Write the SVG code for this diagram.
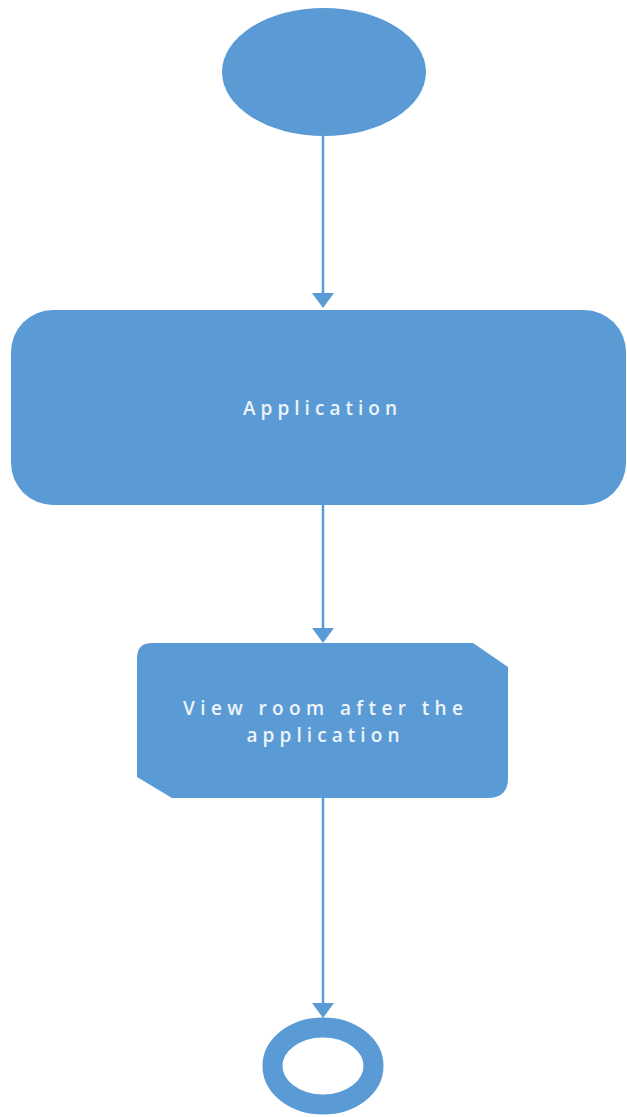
<svg xmlns="http://www.w3.org/2000/svg" width="627" height="1117" viewBox="0 0 627 1117">
  <style>
    .shape { fill: #5b9bd5; }
    .label { fill: #eef4fb; font-family: "Open Sans", "Liberation Sans", sans-serif; font-size: 19px; font-weight: 600; text-anchor: middle; }
    .flow { stroke: #5b9bd5; stroke-width: 2.5; fill: none; }
  </style>
  <defs>
    <path id="head" d="M-11,0 L11,0 L0,15 Z"/>
  </defs>
  <rect width="627" height="1117" fill="#ffffff"/>

  <!-- connectors -->
  <g id="connectors">
    <line class="flow" x1="323" y1="136" x2="323" y2="294"/>
    <use href="#head" class="shape" x="323" y="293"/>
    <line class="flow" x1="323" y1="505" x2="323" y2="629"/>
    <use href="#head" class="shape" x="323" y="628"/>
    <line class="flow" x1="323" y1="798" x2="323" y2="1004"/>
    <use href="#head" class="shape" x="323" y="1003"/>
  </g>

  <!-- initial state -->
  <g id="start">
    <ellipse class="shape" cx="324" cy="72" rx="102" ry="64"/>
  </g>

  <!-- action: Application -->
  <g id="application">
    <rect class="shape" x="11" y="310" width="615" height="195" rx="42" ry="42"/>
    <text class="label" x="320" y="415" textLength="154" lengthAdjust="spacing">Application</text>
  </g>

  <!-- action: view room -->
  <g id="view-room">
    <path class="shape" d="M152,643 L473,643 L508,667 L508,778 Q508,798 488,798 L172,798 L137,777 L137,658 Q137,643 152,643 Z"/>
    <text class="label" x="323" y="715" textLength="280" lengthAdjust="spacing">View room after the</text>
    <text class="label" x="323" y="742" textLength="153" lengthAdjust="spacing">application</text>
  </g>

  <!-- final state -->
  <g id="end">
    <ellipse cx="323" cy="1066" rx="50.5" ry="38.5" fill="none" stroke="#5b9bd5" stroke-width="20"/>
  </g>
</svg>
